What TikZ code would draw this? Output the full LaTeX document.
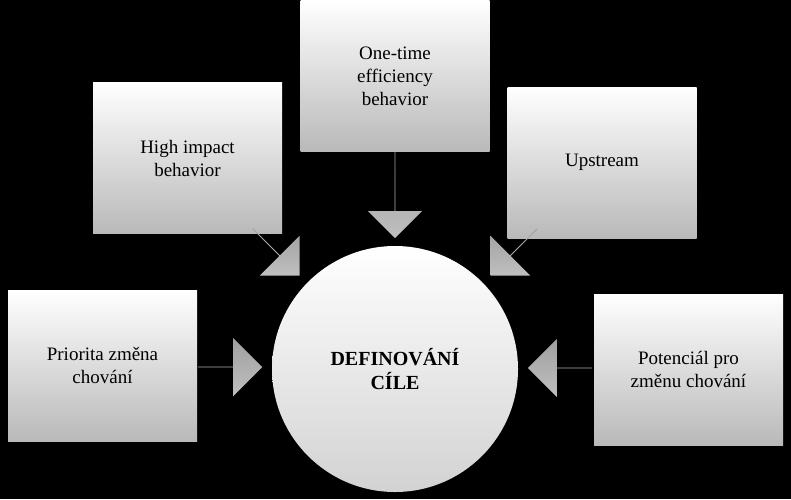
\documentclass[tikz,border=0pt]{standalone}
\usepackage{fontspec}
\setmainfont{Liberation Serif}
\usetikzlibrary{shapes.arrows}

\tikzset{
	box/.style={rectangle, minimum width=189pt, minimum height=151pt, top color=white, bottom color=gray!55, align=center, font=\fontsize{19}{23}\selectfont},
	goal/.style={circle, minimum size=246pt, top color=white, bottom color=gray!35, align=center, font=\fontsize{20}{24}\selectfont\bfseries},
	push/.style={single arrow, minimum height=#1, minimum width=60pt, single arrow head extend=12pt, inner sep=0pt, left color=gray!75, right color=gray!50, shading angle=0},
}

\begin{document}
\begin{tikzpicture}[x=1pt,y=-1pt]
	\fill[black] (0,0) rectangle (791,499);
	\useasboundingbox (0,0) rectangle (791,499);

	\node[goal] (goal) at (395,369) {DEFINOVÁNÍ\\CÍLE};
	\node[box] (prio) at (102.5,365.5) {Priorita změna\\chování};
	\node[box] (impact) at (187.5,158) {High impact\\behavior};
	\node[box] (once) at (395,76) {One-time\\efficiency\\behavior};
	\node[box] (up) at (602,162.5) {Upstream};
	\node[box] (pot) at (688.5,369.5) {Potenciál pro\\změnu chování};

	% arrows into the goal
	\node[push=64pt, minimum width=58pt] (a1) at (230,367) {};
	\node[push=86pt, minimum width=54pt, rotate=-90] (a2) at (395,195) {};
	\node[push=66pt, minimum width=56pt, rotate=-45] (a3) at (276,252) {};
	\node[push=66pt, minimum width=56pt, rotate=-135] (a4) at (514,252) {};
	\node[push=64pt, minimum width=58pt, rotate=180] (a5) at (560,368) {};
\end{tikzpicture}
\end{document}
